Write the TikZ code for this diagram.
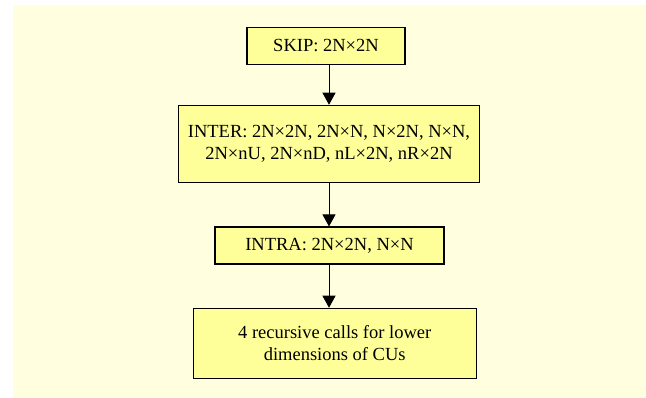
\documentclass[tikz,border=0pt]{standalone}
\usepackage{fontspec}
\setmainfont{Liberation Serif}
\usetikzlibrary{arrows.meta}
\definecolor{bgyellow}{RGB}{255,255,224}
\definecolor{boxyellow}{RGB}{255,255,153}
\tikzset{
  flowbox/.style={draw=black, line width=1.1pt, fill=boxyellow, rectangle,
    inner sep=0pt, align=center, font=\fontsize{18.5pt}{21.5pt}\selectfont},
  flowarrow/.style={draw=black, line width=1pt,
    -{Triangle[width=13pt,length=12pt]}}
}
\begin{document}
\begin{tikzpicture}[x=1pt,y=-1pt]
\useasboundingbox (0,0) rectangle (646,398);
\fill[bgyellow] (13,5) rectangle (646,398);
\node[flowbox, minimum width=158pt, minimum height=37pt] (skip) at (326,45.8) {SKIP: 2N×2N};
\node[flowbox, minimum width=301pt, minimum height=77pt] (inter) at (329,143.8) {INTER: 2N×2N, 2N×N, N×2N, N×N,\\2N×nU, 2N×nD, nL×2N, nR×2N};
\node[flowbox, minimum width=229pt, minimum height=37pt] (intra) at (329.5,245.5) {INTRA: 2N×2N, N×N};
\node[flowbox, minimum width=283pt, minimum height=70pt] (rec) at (334.7,343.3) {4 recursive calls for lower\\dimensions of CUs};
\draw[flowarrow] (inter.north |- skip.south) -- (inter.north);
\draw[flowarrow] (inter.south) -- (inter.south |- intra.north);
\draw[flowarrow] (inter.south |- intra.south) -- (inter.south |- rec.north);
\end{tikzpicture}
\end{document}
